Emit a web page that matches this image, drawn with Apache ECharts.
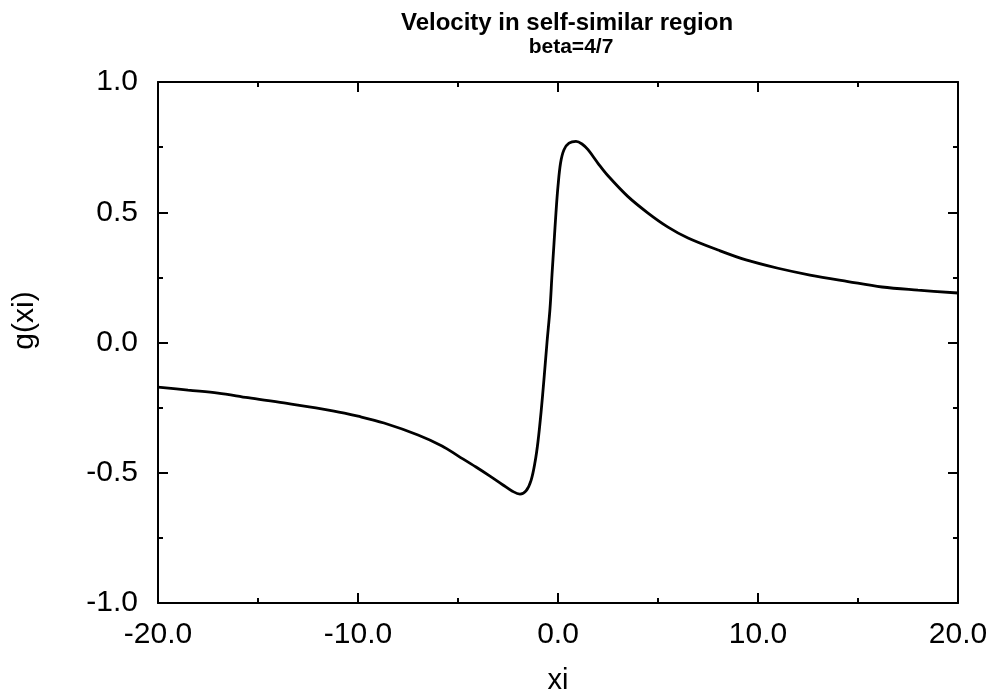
<!DOCTYPE html>
<html>
<head>
<meta charset="utf-8">
<script src="https://cdn.jsdelivr.net/npm/echarts@6/dist/echarts.min.js"></script>
<style>html,body{margin:0;padding:0;background:#fff;}#c{width:989px;height:691px;}</style>
</head>
<body>
<div id="c"></div>
<script>
// xi values and g(xi) values
const xiValues = [-20, -18.5, -17, -15.5, -13.7, -11.2, -10, -8.7, -7, -5.8, -5, -4.1, -3.4, -2.75, -2.3, -1.9, -1.6, -1.35, -1.15, -1.0, -0.85, -0.7, -0.55, -0.4, -0.3, -0.2, -0.1, 0.0, 0.13, 0.3, 0.55, 0.9, 1.2, 1.5, 2.0, 2.5, 3.5, 4.5, 5.5, 6.5, 8, 9.4, 11, 12.6, 14.5, 16.2, 18, 20];
const gValues = [-0.171, -0.183, -0.194, -0.212, -0.232, -0.263, -0.283, -0.309, -0.355, -0.397, -0.435, -0.478, -0.513, -0.547, -0.570, -0.582, -0.57, -0.53, -0.46, -0.38, -0.27, -0.14, 0.0, 0.13, 0.26, 0.38, 0.50, 0.60, 0.69, 0.74, 0.765, 0.772, 0.762, 0.74, 0.688, 0.64, 0.56, 0.497, 0.443, 0.401, 0.355, 0.317, 0.285, 0.259, 0.234, 0.213, 0.201, 0.19];
const xTicks = [-20, -10, 0, 10, 20];
const yTicks = [-1, -0.5, 0, 0.5, 1];
const titleText = 'Velocity in self-similar region';
const subtitleText = 'beta=4/7';

const chart = echarts.init(document.getElementById('c'));
const font = '"Liberation Sans", Arial, Helvetica, sans-serif';
const axisCommon = {
  axisLine: { show: true, onZero: false, lineStyle: { color: '#000', width: 2 } },
  axisTick: { show: true, inside: true, length: 10, lineStyle: { color: '#000', width: 2 } },
  minorTick: { show: true, splitNumber: 2, length: 5, lineStyle: { color: '#000', width: 2 } },
  splitLine: { show: false },
  minorSplitLine: { show: false }
};
const data = xiValues.map((x, i) => [x, gValues[i]]);
chart.setOption({
  animation: false,
  backgroundColor: '#fff',
  title: [
    { text: titleText, left: 562, top: 6, textAlign: 'center',
      textStyle: { fontFamily: font, fontSize: 24, fontWeight: 'bold', color: '#000' } },
    { text: subtitleText, left: 566, top: 32, textAlign: 'center',
      textStyle: { fontFamily: font, fontSize: 21, fontWeight: 'bold', color: '#000' } }
  ],
  grid: { left: 158, right: 31, top: 82, bottom: 88, containLabel: false, outerBoundsMode: 'none' },
  xAxis: [
    Object.assign({
      type: 'value', position: 'bottom', min: xTicks[0], max: xTicks[xTicks.length - 1], interval: 10,
      name: 'xi', nameLocation: 'middle', nameGap: 63,
      nameTextStyle: { fontFamily: font, fontSize: 29, color: '#000' },
      axisLabel: { show: true, margin: 17, fontFamily: font, fontSize: 30, color: '#000',
        formatter: v => v.toFixed(1) }
    }, axisCommon),
    Object.assign({
      type: 'value', position: 'top', min: xTicks[0], max: xTicks[xTicks.length - 1], interval: 10,
      axisLabel: { show: false }
    }, axisCommon)
  ],
  yAxis: [
    Object.assign({
      type: 'value', position: 'left', min: yTicks[0], max: yTicks[yTicks.length - 1], interval: 0.5,
      name: 'g(xi)', nameLocation: 'middle', nameGap: 118,
      nameTextStyle: { fontFamily: font, fontSize: 30, color: '#000', padding: [0, 0, 0, 44] },
      axisLabel: { show: true, margin: 20, fontFamily: font, fontSize: 30, color: '#000',
        formatter: v => v.toFixed(1) }
    }, axisCommon),
    Object.assign({
      type: 'value', position: 'right', min: yTicks[0], max: yTicks[yTicks.length - 1], interval: 0.5,
      axisLabel: { show: false }
    }, axisCommon)
  ],
  series: [{
    type: 'line', xAxisIndex: 0, yAxisIndex: 0, data: data,
    smooth: 0.35, showSymbol: false,
    lineStyle: { color: '#000', width: 2.8 }
  }]
});
</script>
</body>
</html>
